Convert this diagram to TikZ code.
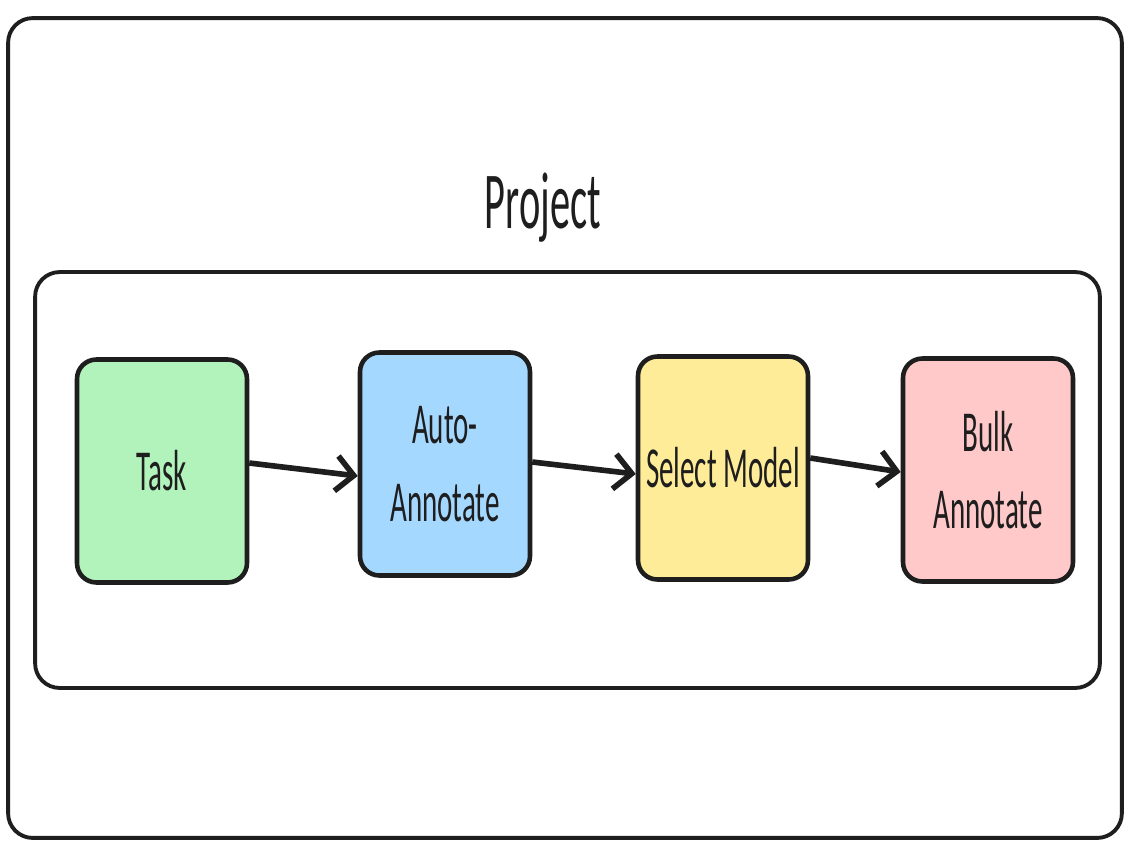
\documentclass[tikz,border=0pt]{standalone}
\usepackage{fontspec}
\usepackage{xcolor}
\usetikzlibrary{arrows.meta,positioning}
\newfontfamily\handfont[FakeStretch=0.5]{Carlito}
\definecolor{ink}{HTML}{1E1E1E}
\definecolor{greenfill}{HTML}{B2F2BB}
\definecolor{bluefill}{HTML}{A5D8FF}
\definecolor{amberfill}{HTML}{FFEC99}
\definecolor{redfill}{HTML}{FFC9C9}
\tikzset{
  frame/.style={draw=ink, rounded corners=14pt, line width=2.2pt, fill=white},
  box/.style={draw=ink, rounded corners=11pt, line width=2.6pt, align=center, minimum width=3.4cm, minimum height=4.46cm, inner sep=4pt, font=\handfont\fontsize{33}{44}\selectfont, text=ink},
  greenbox/.style={box, fill=greenfill},
  bluebox/.style={box, fill=bluefill},
  amberbox/.style={box, fill=amberfill},
  redbox/.style={box, fill=redfill},
  title/.style={font=\handfont\fontsize{46}{50}\selectfont, text=ink, align=center},
  arrow/.style={-{Straight Barb[length=3.5mm,width=7mm]}, line width=3.2pt, draw=ink}
}
\begin{document}
\begin{tikzpicture}[x=0.02cm, y=-0.02cm]
\useasboundingbox (0,0) rectangle (1134,850);
\node[frame, minimum width=22.28cm, minimum height=16.4cm] (outer) at (565,428) {};
\node[title] (project) at (543,208) {Project};
\node[frame, minimum width=21.3cm, minimum height=8.32cm] (inner) at (567.5,480) {};
\node[greenbox] (task) at (162,471) {Task};
\node[bluebox] (auto) at (445,464) {Auto-\\Annotate};
\node[amberbox] (select) at (723,468) {Select Model};
\node[redbox] (bulk) at (988,470) {Bulk\\Annotate};
% slightly falling connectors
\draw[arrow] ([yshift=0.16cm]task.east) -- ([yshift=-0.24cm]auto.west);
\draw[arrow] ([yshift=0.04cm]auto.east) -- ([yshift=-0.12cm]select.west);
\draw[arrow] ([yshift=0.2cm]select.east) -- ([yshift=-0.04cm]bulk.west);
\end{tikzpicture}
\end{document}
